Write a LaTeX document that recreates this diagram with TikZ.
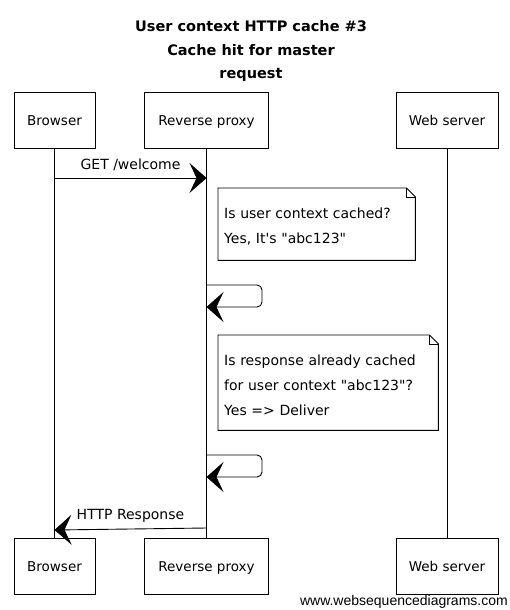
\documentclass[tikz,border=0pt]{standalone}
\usepackage{fontspec}
\setmainfont{DejaVu Sans}[Ligatures=TeXOff]
\newfontfamily\wsdfont{Liberation Sans}
\usetikzlibrary{arrows.meta}
\begin{document}
\begin{tikzpicture}[x=1pt,y=-1pt]
        \tikzstyle{actor_style} = [rectangle,draw=black,line width=0.9pt,minimum height=56pt,inner sep=0pt,text height=12pt,text depth=1pt,font=\fontsize{13.5}{15}\selectfont]
        \tikzstyle{life_style} = [draw=black,line width=0.8pt]
        \tikzstyle{msg_style} = [draw=black,line width=0.9pt,-{Stealth[length=17pt,width=30pt,inset=7pt]}]
        \tikzstyle{label_style} = [font=\fontsize{14}{16}\selectfont,inner sep=0pt]
        \tikzstyle{note_style} = [draw=none,align=left,anchor=north west,inner xsep=6pt,inner ysep=0pt,font=\fontsize{14}{25}\selectfont]
        \useasboundingbox (0,0) rectangle (509,610);
        % title
        \node[font=\bfseries\fontsize{14.5}{23.5}\selectfont,align=center] (title) at (251,51) {User context HTTP cache \#3\\Cache hit for master\\request};
        % actors
        \node[actor_style,minimum width=81pt] (b1) at (54.5,120) {Browser};
        \node[actor_style,minimum width=124pt] (p1) at (206.5,120) {Reverse proxy};
        \node[actor_style,minimum width=102pt] (w1) at (447,120) {Web server};
        \node[actor_style,minimum width=81pt] (b2) at (54.5,566) {Browser};
        \node[actor_style,minimum width=124pt] (p2) at (206.5,566) {Reverse proxy};
        \node[actor_style,minimum width=102pt] (w2) at (447,566) {Web server};
        \draw[life_style] (b1) -- (b2);
        \draw[life_style] (p1) -- (p2);
        \draw[life_style] (w1) -- (w2);
        % messages
        \coordinate (g1) at (54.5,178);
        \coordinate (g2) at (206.5,178);
        \draw[msg_style] (g1) -- node[label_style,above=7pt] (get) {GET /welcome} (g2);
        \coordinate (s1) at (206.5,285);
        \coordinate (s2) at (206.5,307);
        \draw[msg_style,rounded corners=5pt] (s1) -- (262,285) -- (262,307) -- (s2);
        \coordinate (t1) at (206.5,455);
        \coordinate (t2) at (206.5,477);
        \draw[msg_style,rounded corners=5pt] (t1) -- (262,455) -- (262,477) -- (t2);
        \coordinate (h1) at (206.5,528);
        \coordinate (h2) at (54.5,530);
        \draw[msg_style] (h1) -- node[label_style,above=6pt,xshift=0pt] (resp) {HTTP Response} (h2);
        % notes
        \node[note_style,text width=185pt,minimum height=72pt] (n1) at (218,188) {\rule{0pt}{15.5pt}Is user context cached?\\Yes, It's "abc123"};
        \draw[line width=0.9pt] (n1.north west) -- ([xshift=-9pt]n1.north east) -- ([yshift=-9pt]n1.north east) -- (n1.south east) -- (n1.south west) -- cycle;
        \draw[line width=0.7pt] ([xshift=-9pt]n1.north east) -- ([xshift=-9pt,yshift=-9pt]n1.north east) -- ([yshift=-9pt]n1.north east);
        \node[note_style,text width=208pt,minimum height=95pt] (n2) at (218,335) {\rule{0pt}{15.5pt}Is response already cached\\for user context "abc123"?\\Yes => Deliver};
        \draw[line width=0.9pt] (n2.north west) -- ([xshift=-9pt]n2.north east) -- ([yshift=-9pt]n2.north east) -- (n2.south east) -- (n2.south west) -- cycle;
        \draw[line width=0.7pt] ([xshift=-9pt]n2.north east) -- ([xshift=-9pt,yshift=-9pt]n2.north east) -- ([yshift=-9pt]n2.north east);
        % watermark
        \node[font=\wsdfont\fontsize{14}{16}\selectfont,anchor=east,inner sep=0pt] (wsd) at (508,602) {www.websequencediagrams.com};
      \end{tikzpicture}
\end{document}
